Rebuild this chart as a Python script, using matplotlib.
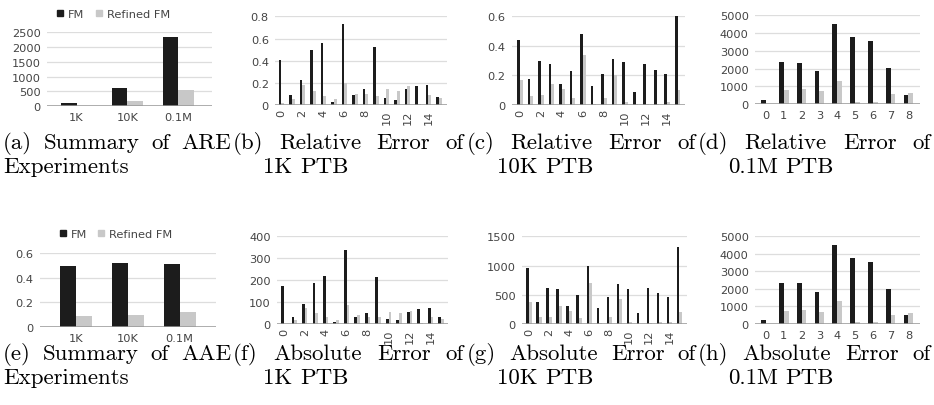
import matplotlib.pyplot as plt
from matplotlib.lines import Line2D


# _____DATA____

summary_labels = ['1K', '10K', '0.1M']
are_fm = [90, 597, 2342]
are_refined = [10, 170, 540]
aae_fm = [0.497, 0.524, 0.516]
aae_refined = [0.092, 0.095, 0.124]

re_1k_fm = [0.41, 0.09, 0.23, 0.50, 0.56, 0.03, 0.73, 0.09, 0.14, 0.525, 0.063, 0.042, 0.146, 0.167, 0.18, 0.07]
re_1k_refined = [0.015, 0.05, 0.185, 0.125, 0.083, 0.057, 0.20, 0.10, 0.095, 0.083, 0.14, 0.125, 0.167, 0.012,
                 0.09, 0.06]
re_10k_fm = [0.438, 0.175, 0.30, 0.28, 0.14, 0.23, 0.48, 0.13, 0.21, 0.31, 0.29, 0.09, 0.28, 0.24, 0.21, 0.60]
re_10k_refined = [0.17, 0.06, 0.07, 0.14, 0.11, 0.05, 0.34, 0.01, 0.05, 0.20, 0.02, 0.005, 0.01, 0.01, 0.02, 0.10]
re_01m_fm = [243, 2360, 2320, 1835, 4490, 3780, 3560, 2020, 490]
re_01m_refined = [0, 770, 820, 710, 1290, 130, 90, 540, 640]

ae_1k_fm = [173, 34, 91, 185, 218, 10, 339, 34, 49, 215, 25, 18, 55, 67, 75, 30]
ae_1k_refined = [2, 18, 75, 48, 31, 19, 88, 42, 34, 34, 55, 49, 61, 4, 34, 21]
ae_10k_fm = [966, 384, 616, 605, 300, 492, 1000, 266, 458, 678, 605, 192, 616, 525, 458, 1311]
ae_10k_refined = [373, 113, 124, 300, 226, 107, 700, 10, 113, 430, 28, 5, 17, 28, 34, 209]
ae_01m_fm = [243, 2360, 2320, 1835, 4490, 3780, 3560, 2020, 490]
ae_01m_refined = [0, 770, 820, 710, 1290, 130, 90, 540, 640]

legend_labels = ['FM', 'Refined FM']

captions_top = [['(a) Summary of ARE', 'Experiments'],
                ['(b) Relative Error of', '1K PTB'],
                ['(c) Relative Error of', '10K PTB'],
                ['(d) Relative Error of', '0.1M PTB']]
captions_bottom = [['(e) Summary of AAE', 'Experiments'],
                   ['(f) Absolute Error of', '1K PTB'],
                   ['(g) Absolute Error of', '10K PTB'],
                   ['(h) Absolute Error of', '0.1M PTB']]

# _____STYLE____

FIG_W, FIG_H, DPI = 934, 406, 100
FM_COLOR = '#1c1c1c'
REFINED_COLOR = '#c8c8c8'
GRID_COLOR = '#dddddd'
BASE_COLOR = '#999999'
TICK_COLOR = '#444444'
TICK_SIZE = 8.2
CAP_SIZE = 16.5
CAP_FONT = 'cmr10'


# _____PRIVATE FUNCTIONS____

def _rect(left, top, right, bottom):
    # convert a pixel box into figure fractions
    return [left / FIG_W, 1 - bottom / FIG_H, (right - left) / FIG_W, (bottom - top) / FIG_H]


def _bar_panel(fig, box, fm, refined, width, xlim, ytop, ystep, xticks, xlabels, rotate=False):
    # one grouped bar chart in the google sheets look
    ax = fig.add_axes(_rect(*box))
    x = list(range(len(fm)))
    ax.bar([i - width / 2 for i in x], fm, width, color=FM_COLOR, zorder=3)
    ax.bar([i + width / 2 for i in x], refined, width, color=REFINED_COLOR, zorder=3)

    ax.set_xlim(*xlim)
    ax.set_ylim(0, ytop * 1.004)
    yticks = [ystep * k for k in range(int(round(ytop / ystep)) + 1)]
    ax.set_yticks(yticks)
    ax.set_yticklabels(['{:g}'.format(round(v, 6)) for v in yticks])
    ax.set_xticks(xticks)
    ax.set_xticklabels(xlabels, rotation=90 if rotate else 0)

    ax.grid(axis='y', color=GRID_COLOR, linewidth=0.9, zorder=0)
    ax.axhline(0, color=BASE_COLOR, linewidth=1.1, zorder=4)
    for spine in ax.spines.values():
        spine.set_visible(False)
    ax.tick_params(length=0, labelsize=TICK_SIZE, labelcolor=TICK_COLOR)
    ax.tick_params(axis='y', pad=4.5)
    ax.tick_params(axis='x', pad=3 if rotate else 4)
    return ax


def _legend(ax, x, y):
    handles = [Line2D([], [], marker='s', linestyle='', color=c, markersize=4.6)
               for c in (FM_COLOR, REFINED_COLOR)]
    ax.legend(handles, legend_labels, ncol=2, loc='center', bbox_to_anchor=(x, y), frameon=False,
              fontsize=TICK_SIZE, labelcolor=TICK_COLOR, handlelength=0.7, handletextpad=0.35,
              columnspacing=0.9, borderpad=0, borderaxespad=0)


def _caption_line(fig, renderer, text, x0, x1, y, justify):
    # latex like justified line built from single words
    words = text.split(' ')
    items = [fig.text(0, 1 - y / FIG_H, w, fontsize=CAP_SIZE, family=CAP_FONT, va='baseline')
             for w in words]
    widths = [t.get_window_extent(renderer).width for t in items]
    if justify and len(words) > 1:
        gap = (x1 - x0 - sum(widths)) / (len(words) - 1)
    else:
        gap = 0.333 * CAP_SIZE * DPI / 72
    x = x0
    for t, w in zip(items, widths):
        t.set_x(x / FIG_W)
        x += w + gap


# _____MAIN____

fig = plt.figure(figsize=(FIG_W / DPI, FIG_H / DPI), dpi=DPI)

idx16 = list(range(0, 16, 2))
idx9 = list(range(9))

ax_a = _bar_panel(fig, (47, 33, 212, 107), are_fm, are_refined, 0.30, (-0.58, 2.66), 2500, 500,
                  [0, 1, 2], summary_labels)
_legend(ax_a, 0.40, 1.245)
_bar_panel(fig, (275, 17, 447, 106), re_1k_fm, re_1k_refined, 0.26, (-0.6, 15.78), 0.8, 0.2,
           idx16, [str(i) for i in idx16], rotate=True)
_bar_panel(fig, (512, 17, 685, 106), re_10k_fm, re_10k_refined, 0.26, (-0.74, 15.7), 0.6, 0.2,
           idx16, [str(i) for i in idx16], rotate=True)
_bar_panel(fig, (755, 16, 920, 105), re_01m_fm, re_01m_refined, 0.27, (-0.62, 8.65), 5000, 1000,
           idx9, [str(i) for i in idx9])

ax_e = _bar_panel(fig, (40, 254, 216, 328), aae_fm, aae_refined, 0.31, (-0.69, 2.70), 0.6, 0.2,
                  [0, 1, 2], summary_labels)
_legend(ax_e, 0.43, 1.255)
_bar_panel(fig, (277, 237, 448, 325), ae_1k_fm, ae_1k_refined, 0.26, (-0.65, 15.67), 400, 100,
           idx16, [str(i) for i in idx16], rotate=True)
_bar_panel(fig, (522, 237, 687, 325), ae_10k_fm, ae_10k_refined, 0.26, (-0.7, 15.77), 1500, 500,
           idx16, [str(i) for i in idx16], rotate=True)
_bar_panel(fig, (755, 237, 920, 325), ae_01m_fm, ae_01m_refined, 0.27, (-0.62, 8.65), 5000, 1000,
           idx9, [str(i) for i in idx9])

# captions under each row
renderer = fig.canvas.get_renderer()
col_left = [3, 233, 467, 698]
col_right = [231, 464, 696, 931]
indent = [0, 30, 30, 30]
for captions, base in ((captions_top, 149), (captions_bottom, 360)):
    for k, (first, second) in enumerate(captions):
        _caption_line(fig, renderer, first, col_left[k], col_right[k], base, True)
        _caption_line(fig, renderer, second, col_left[k] + indent[k], col_right[k], base + 24, False)

fig.savefig('out.png', dpi=DPI)
